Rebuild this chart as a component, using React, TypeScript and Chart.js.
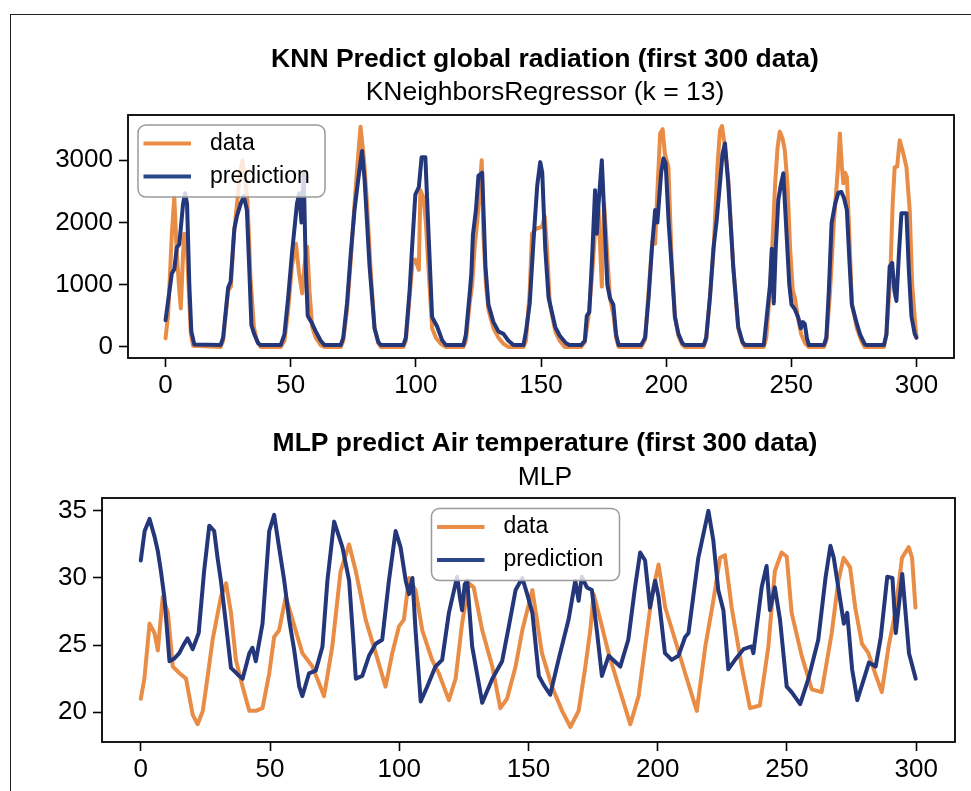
import React, { useEffect, useRef } from 'react';
import { Chart, registerables } from 'chart.js';

Chart.register(...registerables);

type Pt = [number, number];

const FONT = "'Liberation Sans', Arial, Helvetica, sans-serif";
const ORANGE = '#e98c45';
const BLUE = '#23377a';

const seriesLabels = ['data', 'prediction'];
const xTicks = [0, 50, 100, 150, 200, 250, 300];
const knnYTicks = [0, 1000, 2000, 3000];
const mlpYTicks = [20, 25, 30, 35];

const knnTitle = 'KNN Predict global radiation (first 300 data)';
const knnSubtitle = 'KNeighborsRegressor (k = 13)';
const mlpTitle = 'MLP predict Air temperature (first 300 data)';
const mlpSubtitle = 'MLP';

// KNN: global radiation (x = sample index, y = value)
const knnData: Pt[] = [
  [0, 140], [1, 500], [2.5, 1800], [3.5, 2410], [4.5, 1500], [5.5, 900], [6.1, 620], [7, 1500], [7.5, 1820], [8.5, 1600], [9.3, 900], [10.1, 220], [11, 20], [22, 0],
  [23, 100], [25, 900], [26.1, 970], [27.3, 1800], [28.7, 2360], [29.8, 2800], [30.7, 3000], [31.8, 2700], [32.7, 2360], [33.4, 1700], [33.9, 1130], [35.3, 320], [36.5, 100], [38, 0], [46, 0],
  [47.5, 100], [49, 600], [50.5, 1300], [52.1, 1660], [53.3, 1200], [54.6, 860], [55.5, 1300], [56.6, 1610], [57.5, 900], [58.6, 320], [60, 150], [62, 30], [63.5, 0], [70, 0],
  [71, 100], [72.5, 600], [74, 1400], [75.5, 2300], [76.6, 2890], [77.9, 3540], [79.3, 3000], [80.5, 2300], [82, 1200], [83.5, 300], [85, 60], [86, 0], [95, 0],
  [96, 100], [97.5, 800], [98.8, 1400], [99.8, 1400], [101.2, 1240], [101.8, 2520], [103, 2400], [104, 2000], [105, 1300], [106.5, 300], [108, 150], [110, 50], [112, 0], [119, 0],
  [120, 100], [121.5, 700], [122.5, 1000], [123.5, 1600], [124.5, 2000], [125.5, 2500], [126.3, 3000], [127, 1800], [128, 1000], [129, 600], [131, 300], [133, 150], [135, 50], [137, 0], [143, 0],
  [144, 100], [145.5, 900], [146.4, 1820], [148, 1900], [150.4, 1930], [151.5, 2100], [152.4, 1580], [153.5, 700], [155.7, 250], [157.5, 100], [159.5, 0], [166, 0],
  [167.5, 80], [169, 500], [170.5, 1200], [171.5, 1800], [173, 2200], [174.3, 970], [175.2, 2300], [176, 1800], [177.5, 800], [179, 500], [180, 150], [181, 0], [190, 0],
  [191.6, 120], [193, 900], [194.5, 1700], [195.6, 1660], [196.5, 2500], [197.6, 3430], [198.6, 3500], [199.5, 3100], [200.9, 2890], [202.2, 1400], [203.5, 500], [204.9, 180], [206.5, 30], [207.5, 0], [215, 0],
  [216, 120], [217.5, 800], [219, 1600], [220.5, 2900], [221.5, 3480], [222.3, 3550], [223.2, 3300], [224.8, 2700], [226.8, 1300], [228.8, 300], [230.5, 60], [231.5, 0], [239, 0],
  [240, 150], [241.5, 900], [242.5, 1700], [243.5, 2600], [244.5, 3200], [245.4, 3460], [246.5, 3350], [247.4, 3160], [248.5, 2600], [249.5, 1600], [250.6, 900], [251.4, 800], [252.5, 500], [254, 200], [255.5, 60], [257, 0], [263, 0],
  [264, 100], [265.5, 900], [267, 2000], [268.5, 2800], [269.4, 3430], [270.2, 2900], [270.8, 2630], [271.5, 2800], [272.2, 2730], [273, 2000], [274.2, 700], [276.2, 300], [278, 100], [279.3, 0], [287, 0],
  [288, 200], [289.5, 1100], [290.5, 2300], [291.3, 2890], [292.3, 2900], [293.3, 3320], [294.5, 3150], [296, 2890], [297.3, 2200], [298.3, 1000], [299.3, 480], [300, 150],
];

const knnPrediction: Pt[] = [
  [0, 430], [2.5, 1180], [3.5, 1250], [4.5, 1600], [5.5, 1650], [7, 2300], [7.8, 2470], [8.6, 2300], [9.5, 1000], [10.3, 250], [11.5, 40], [22, 30],
  [23, 150], [25, 950], [26, 1050], [27.5, 1900], [28.5, 2100], [30, 2300], [31.3, 2420], [32.5, 2200], [33.5, 1200], [34.3, 350], [35.5, 200], [37, 60], [38, 30], [46, 30],
  [47.5, 200], [49, 800], [50.5, 1500], [52.5, 2300], [53.4, 2470], [54.3, 2000], [55.2, 2800], [56, 1300], [56.8, 500], [58.5, 380], [60, 250], [62, 100], [63.5, 30], [70, 30],
  [71, 150], [72.5, 700], [74, 1500], [75.5, 2200], [77, 2700], [78.5, 3150], [79.5, 2700], [81.5, 1300], [83.5, 300], [85, 80], [86, 30], [95, 30],
  [96, 150], [97.5, 900], [98.5, 1600], [99.8, 2450], [101.2, 2570], [102.3, 3050], [103.8, 3050], [105.2, 1700], [106.5, 480], [108.5, 330], [110.5, 110], [112, 30], [119, 30],
  [120, 200], [121.6, 900], [122.2, 1200], [122.8, 1800], [124, 2200], [125, 2750], [126.5, 2800], [127.8, 1300], [129, 680], [131, 400], [133, 250], [135, 210], [137, 100], [139, 30], [143, 30],
  [144, 250], [145.5, 700], [147, 1700], [148.5, 2600], [149.7, 2970], [150.5, 2800], [151.7, 1580], [153, 800], [155.7, 320], [157.5, 180], [160, 60], [161.5, 30], [166, 30],
  [167.5, 100], [168.3, 500], [169.3, 560], [170.5, 1500], [171.6, 2520], [172.3, 1820], [173, 2300], [174.3, 3000], [175.6, 1820], [176.5, 1000], [177.6, 780], [178.9, 680], [180, 200], [181, 30], [190, 30],
  [191.6, 150], [193, 800], [194.3, 1580], [195.6, 2200], [196.5, 2000], [198, 2800], [198.9, 3030], [199.8, 2950], [201, 2000], [202.2, 1290], [203.5, 480], [204.9, 210], [206.5, 60], [207.5, 30], [215, 30],
  [216, 150], [217.5, 800], [218.9, 1580], [220.2, 2040], [221.5, 2630], [222.5, 3100], [223.5, 3270], [224.8, 2630], [226.8, 1290], [228.8, 320], [230.5, 80], [231.5, 30], [239, 30],
  [240.2, 490], [241.5, 1000], [242.2, 1580], [243, 700], [243.8, 1600], [244.8, 2360], [245.8, 2600], [246.8, 2790], [248.1, 1820], [249.2, 1000], [250.1, 680], [251.5, 600], [252.8, 470], [253.8, 300], [254.6, 400], [255.4, 370], [256.2, 150], [257, 30], [263, 30],
  [264, 150], [265, 900], [266.1, 1990], [267.5, 2300], [268.8, 2480], [270, 2490], [271, 2400], [272.2, 2200], [273.2, 1400], [274.2, 680], [276.2, 370], [277.5, 200], [279.3, 50], [280, 30], [287, 30],
  [288, 200], [289.3, 1290], [290.3, 1350], [291.2, 900], [292, 740], [293, 1500], [294, 2150], [296, 2150], [297, 1200], [298, 490], [299.3, 210], [300, 150],
];

// MLP: air temperature
const mlpData: Pt[] = [
  [0, 21.0], [1.4, 22.5], [3.4, 26.6], [5.3, 25.9], [6.6, 24.6], [8.5, 28.6], [10.5, 27.4], [12.4, 23.4], [15, 22.9], [17.5, 22.5], [20.1, 19.8], [22, 19.1], [24, 20.1], [25.9, 22.7], [27.8, 25.4],
  [31, 28.6], [33, 29.6], [34.9, 27.4], [36.8, 23.9], [39.4, 21.9], [42, 20.1], [44.5, 20.1], [47.1, 20.3], [49.7, 22.9], [51.6, 25.6], [53.5, 26.1], [56.1, 28.6], [58.7, 26.9], [62.5, 24.4],
  [66.4, 23.4], [70.9, 21.2], [74.1, 24.9], [77.3, 30.5], [80.6, 32.5], [83.2, 30.5], [87, 26.9], [90.9, 24.4], [94.7, 21.9], [97.3, 24.4], [99.9, 26.4], [101.8, 26.9], [103.8, 30.0], [106.3, 29.1],
  [108.9, 26.1], [112.7, 23.9], [115.3, 22.9], [119.2, 20.9], [121.8, 22.5], [124.3, 26.6], [126.9, 29.6], [128.8, 29.3], [132.1, 26.1], [136, 23.4], [139.1, 20.3], [141.7, 21.0], [145, 23.4],
  [147.6, 26.1], [151.5, 29.1], [155.2, 24.4], [159.1, 21.9], [163, 20.1], [166.2, 18.9], [169.4, 20.1], [172, 23.4], [173.9, 26.1], [175.2, 28.8], [177.1, 27.4], [181, 24.4], [184.9, 21.9],
  [189.4, 19.1], [192.6, 21.2], [195.8, 25.9], [197.8, 28.8], [200.3, 31.0], [202.9, 27.8], [206.7, 25.4], [210.6, 22.9], [215.1, 20.1], [218.4, 24.9], [221.5, 28.3], [224.1, 31.5], [226, 31.7],
  [228.6, 27.8], [232.5, 23.4], [235.7, 20.3], [239.5, 20.5], [242.8, 24.9], [245.3, 30.5], [247.9, 31.9], [249.9, 31.6], [251.8, 27.4], [255.7, 24.2], [259.6, 21.7], [263.4, 21.5], [267.3, 25.9],
  [269.9, 29.8], [271.9, 31.5], [274.4, 30.8], [276.4, 27.8], [279, 25.1], [281.5, 24.4], [284.1, 22.9], [286.7, 21.5], [289.3, 24.9], [291.9, 27.4], [294.5, 31.5], [297.1, 32.3], [298.4, 31.5], [299.7, 27.8],
];

const mlpPrediction: Pt[] = [
  [0, 31.3], [1.5, 33.5], [3.4, 34.4], [5.3, 33.1], [6.6, 32.0], [7.8, 30.5], [9.1, 28.6], [10, 26.5], [11.1, 23.8], [13, 24.0], [14.9, 24.4], [16.5, 25.0], [18.1, 25.5], [20.1, 24.7], [22.4, 25.9],
  [24.5, 30.5], [26.5, 33.9], [28.4, 33.5], [29.7, 31.5], [31, 29.8], [33, 26.5], [34.9, 23.3], [36.5, 23.0], [38.1, 22.7], [39.4, 22.5], [42, 24.4], [43.2, 24.8], [44.5, 23.8], [47.1, 26.6],
  [49.7, 33.5], [51.6, 34.7], [53.5, 32.3], [55.5, 29.8], [57.4, 26.9], [59.3, 24.7], [61.3, 21.9], [62.5, 21.2], [65.1, 22.9], [67.7, 23.1], [70.3, 24.9], [72.2, 29.8], [74.8, 34.2], [76.5, 33.2],
  [78, 32.3], [80.6, 29.8], [82, 26.0], [83.2, 22.5], [85.7, 22.7], [88.3, 24.2], [90.9, 25.1], [93.4, 25.4], [96, 29.8], [98.6, 33.5], [100.5, 32.3], [102.5, 29.8], [103.8, 28.8], [105.1, 30.0],
  [106.3, 26.1], [108.3, 20.8], [110.8, 21.9], [114, 23.4], [116.6, 23.9], [119.2, 27.4], [122.4, 30.1], [123.5, 28.5], [124.3, 27.6], [125.3, 29.5], [126.3, 29.8], [128.2, 24.9], [132.1, 20.7],
  [136, 22.5], [139.8, 23.8], [142.5, 26.5], [145, 29.1], [147.6, 30.0], [149.5, 28.8], [151.5, 27.4], [154, 22.7], [156, 22.0], [158.4, 21.3], [161.6, 23.9], [165.5, 26.9], [168.1, 29.8],
  [169.4, 28.3], [170.6, 30.1], [172.6, 29.3], [174.5, 29.1], [176.5, 26.0], [178.4, 22.7], [181, 24.2], [185.5, 23.4], [188.6, 25.4], [191.2, 29.3], [193.2, 31.9], [195.1, 31.3], [197, 27.8],
  [199, 29.8], [200.3, 28.6], [202.8, 24.4], [205.4, 23.9], [208, 24.2], [210.6, 25.6], [211.9, 25.9], [215.7, 31.5], [217.7, 33.3], [219.6, 35.0], [221.5, 32.8], [223.4, 29.1], [225.4, 27.6],
  [227.3, 23.2], [229.9, 23.9], [233.2, 24.7], [236.3, 24.9], [237, 24.4], [240.2, 29.3], [242.1, 30.9], [243.4, 27.6], [245.3, 29.3], [247.3, 26.9], [249.9, 21.9], [251.8, 21.5], [255.1, 20.6],
  [258.3, 22.5], [262.1, 25.4], [264.9, 30.0], [266.8, 32.4], [268.1, 31.5], [270, 29.1], [272, 26.6], [273.3, 27.4], [275.2, 23.2], [277.2, 20.9], [279.8, 22.5], [281.7, 23.7], [284.3, 23.4],
  [286.3, 25.6], [288.8, 30.1], [290.8, 30.0], [292.1, 25.9], [294.6, 30.3], [297.2, 24.4], [299.8, 22.5],
];

const W = 971;

interface PanelSpec {
  title: string;
  subtitle: string;
  data: Pt[];
  prediction: Pt[];
  yTicks: number[];
  xRange: [number, number];
  yRange: [number, number];
  top: number;
  height: number;
  area: { left: number; top: number; right: number; bottom: number };
  titleX: number;
  titleY: number;
  subtitleY: number;
  legend: { x: number; y: number; w: number; h: number };
}

const panels: PanelSpec[] = [
  {
    title: knnTitle, subtitle: knnSubtitle, data: knnData, prediction: knnPrediction, yTicks: knnYTicks,
    xRange: [-15, 315], yRange: [-177, 3727], top: 0, height: 400,
    area: { left: 128, top: 115, right: 954, bottom: 358 },
    titleX: 545, titleY: 59.5, subtitleY: 92.5,
    legend: { x: 138, y: 125, w: 187, h: 72 },
  },
  {
    title: mlpTitle, subtitle: mlpSubtitle, data: mlpData, prediction: mlpPrediction, yTicks: mlpYTicks,
    xRange: [-15, 315], yRange: [17.78, 35.96], top: 400, height: 391,
    area: { left: 102, top: 98, right: 955, bottom: 342 },
    titleX: 545, titleY: 43.5, subtitleY: 77.5,
    legend: { x: 431.5, y: 108.5, w: 188, h: 72 },
  },
];

const decorPlugin = {
  id: 'decor',
  afterDatasetsDraw(chart: any, _args: any, opts: any) {
    const { ctx, chartArea: a } = chart;
    ctx.save();
    ctx.strokeStyle = '#000';
    ctx.lineWidth = 1.8;
    ctx.strokeRect(a.left, a.top, a.right - a.left, a.bottom - a.top);

    const L = opts.legend;
    if (L) {
      ctx.beginPath();
      if ((ctx as any).roundRect) (ctx as any).roundRect(L.x, L.y, L.w, L.h, 8);
      else ctx.rect(L.x, L.y, L.w, L.h);
      ctx.fillStyle = 'rgba(255,255,255,0.8)';
      ctx.fill();
      ctx.strokeStyle = '#9a9a9a';
      ctx.lineWidth = 1.5;
      ctx.stroke();
      [0, 1].forEach((i) => {
        const ds = chart.data.datasets[i];
        const y = L.y + 18.5 + i * 33;
        ctx.beginPath();
        ctx.strokeStyle = ds.legendColor || ds.borderColor;
        ctx.lineWidth = 4;
        ctx.moveTo(L.x + 5.5, y);
        ctx.lineTo(L.x + 53, y);
        ctx.stroke();
        ctx.fillStyle = '#000';
        ctx.font = `23px ${FONT}`;
        ctx.textAlign = 'left';
        ctx.textBaseline = 'middle';
        ctx.fillText(ds.label, L.x + 72, y);
      });
    }
    ctx.restore();
  },
  afterDraw(chart: any, _args: any, opts: any) {
    const { ctx } = chart;
    ctx.save();
    ctx.fillStyle = '#000';
    ctx.textAlign = 'center';
    ctx.textBaseline = 'middle';
    ctx.font = `bold 26.5px ${FONT}`;
    ctx.fillText(opts.title, opts.titleX, opts.titleY);
    ctx.font = `26.5px ${FONT}`;
    ctx.fillText(opts.subtitle, opts.titleX, opts.subtitleY);
    ctx.restore();
  },
};

function buildChart(canvas: HTMLCanvasElement, p: PanelSpec) {
  const toXY = (arr: Pt[]) => arr.map(([x, y]) => ({ x, y }));
  const tickFont = { family: FONT, size: 26 };
  const grid = { drawOnChartArea: false, drawTicks: true, tickLength: 9, tickWidth: 1.6, tickColor: '#000', color: '#000' };
  const lineStyle = {
    borderWidth: 4,
    pointRadius: 0,
    tension: 0,
    fill: false,
    borderJoinStyle: 'round',
    borderCapStyle: 'round',
  };
  return new Chart(canvas, {
    type: 'line',
    data: {
      datasets: [
        { ...lineStyle, label: seriesLabels[0], data: toXY(p.data), borderColor: ORANGE, backgroundColor: ORANGE, order: 1 },
        { ...lineStyle, label: seriesLabels[1], data: toXY(p.prediction), borderColor: BLUE, backgroundColor: BLUE, legendColor: '#2a4789', order: 0 },
      ],
    },
    options: {
      animation: false,
      responsive: false,
      maintainAspectRatio: false,
      devicePixelRatio: 1,
      events: [],
      layout: { padding: { left: 0, top: p.area.top, right: W - p.area.right, bottom: 0 } },
      plugins: {
        legend: { display: false },
        title: { display: false },
        tooltip: { enabled: false },
        decor: { title: p.title, subtitle: p.subtitle, titleX: p.titleX, titleY: p.titleY, subtitleY: p.subtitleY, legend: p.legend },
      } as any,
      scales: {
        x: {
          type: 'linear',
          min: p.xRange[0],
          max: p.xRange[1],
          afterBuildTicks: (s: any) => { s.ticks = xTicks.map((v) => ({ value: v })); },
          afterFit: (s: any) => { s.height = p.height - p.area.bottom; },
          grid,
          border: { display: false },
          ticks: { font: tickFont, color: '#000', padding: 3, maxRotation: 0, autoSkip: false, callback: (v: any) => String(v) },
        },
        y: {
          type: 'linear',
          min: p.yRange[0],
          max: p.yRange[1],
          afterBuildTicks: (s: any) => { s.ticks = p.yTicks.map((v) => ({ value: v })); },
          afterFit: (s: any) => { s.width = p.area.left; },
          grid,
          border: { display: false },
          ticks: { font: tickFont, color: '#000', padding: 6, autoSkip: false, callback: (v: any) => String(v) },
        },
      },
    } as any,
    plugins: [decorPlugin],
  });
}

function Panel({ spec }: { spec: PanelSpec }) {
  const ref = useRef<HTMLCanvasElement | null>(null);
  useEffect(() => {
    if (!ref.current) return;
    const chart = buildChart(ref.current, spec);
    return () => chart.destroy();
  }, [spec]);
  return (
    <canvas
      ref={ref}
      width={W}
      height={spec.height}
      style={{ position: 'absolute', left: 0, top: spec.top, width: W, height: spec.height }}
    />
  );
}

export default function App() {
  return (
    <div style={{ position: 'absolute', left: 0, top: 0, width: W, height: 791, background: '#fff', overflow: 'hidden' }}>
      <div
        style={{
          position: 'absolute', left: 10, top: 14, width: W - 10, height: 791 - 14,
          borderTop: '1.5px solid #222', borderLeft: '1.5px solid #222', boxSizing: 'border-box',
        }}
      />
      {panels.map((p, i) => (
        <Panel key={i} spec={p} />
      ))}
    </div>
  );
}
